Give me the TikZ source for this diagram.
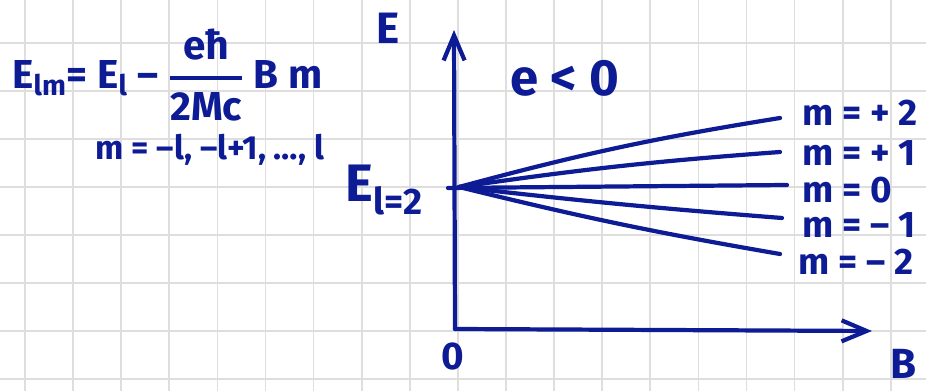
\documentclass[tikz,border=0pt]{standalone}
\usepackage{amsmath}
\usepackage{fontspec}
\setmainfont{Fira Sans}
\usepackage{tikz}
\usetikzlibrary{arrows.meta}
\definecolor{ink}{RGB}{13,27,148}

\begin{document}
\begin{tikzpicture}[
    x=0.02cm, y=-0.02cm,
    paper/.style={draw=black!13, line width=1pt},
    pen/.style={draw=ink, line width=2.4pt, line cap=round},
    axis/.style={pen, -{Straight Barb[length=0.5cm, width=0.42cm]}},
    hw/.style={text=ink, font=\bfseries\fontsize{#1}{#1}\selectfont, inner sep=0pt}
]
\useasboundingbox (0,0) rectangle (926,391);
% squared paper
\foreach \gx in {0,...,18} \draw[paper] (25+48.1*\gx,0) -- (25+48.1*\gx,391);
\foreach \gy in {0,...,7} \draw[paper] (0,43+48*\gy) -- (926,43+48*\gy);

% formula
\node[hw=23pt, anchor=west] (zeeman) at (12,75) {E$_{\text{lm}}$= E$_{\text{l}}$ – $\genfrac{}{}{2.4pt}{0}{\text{eħ}}{\text{2Mc}}$ B m};
\node[hw=19pt, anchor=west] (mrange) at (95,150) {m = –l, –l+1, …, l};

% axes
\coordinate (O) at (455,329);
\coordinate (Etop) at (454,30);
\coordinate (Bend) at (872,331);
\draw[axis] (O) -- (Etop);
\draw[axis] (O) -- (Bend);
\node[hw=25pt] (Elab) at (388,28) {E};
\node[hw=24pt] (Blab) at (903,364) {B};
\node[hw=22pt] (orig) at (453,356) {0};
\node[hw=29pt] (sign) at (565,78) {e < 0};
\node[hw=30pt, anchor=west] (El) at (345,190) {E$_{\text{l=2}}$};

% split levels
\coordinate (tick) at (448,188);
\coordinate (lvl) at (459,187);
\coordinate (q2) at (780,118);
\coordinate (q1) at (780,152);
\coordinate (q0) at (787,185);
\coordinate (qm1) at (782,218);
\coordinate (qm2) at (780,254);
\draw[pen] (lvl) to[bend left=3] (q2);
\draw[pen] (lvl) to[bend left=2] (q1);
\draw[pen] (tick) -- (q0);
\draw[pen] (lvl) to[bend right=1] (qm1);
\draw[pen] (lvl) to[bend right=2] (qm2);

\node[hw=21pt, anchor=west] (m2) at (802,113) {m = + 2};
\node[hw=21pt, anchor=west] (m1) at (802,153) {m = + 1};
\node[hw=21pt, anchor=west] (m0) at (802,190) {m = 0};
\node[hw=21pt, anchor=west] (mm1) at (802,225) {m = – 1};
\node[hw=21pt, anchor=west] (mm2) at (798,262) {m = – 2};
\end{tikzpicture}
\end{document}
